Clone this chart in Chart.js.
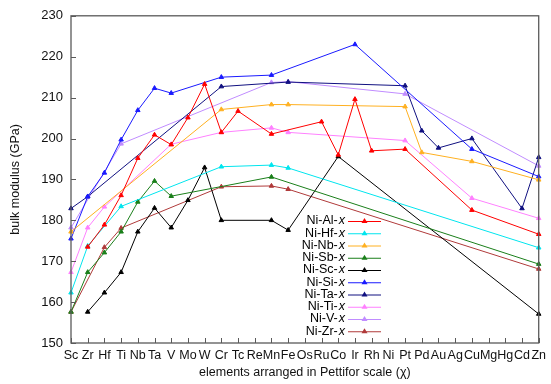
<!DOCTYPE html>
<html>
<head>
<meta charset="utf-8">
<script src="https://cdn.jsdelivr.net/npm/chart.js@4.4.0/dist/chart.umd.min.js"></script>
<style>
  html, body { margin: 0; padding: 0; background: #fff; }
  #wrap { width: 551px; height: 384px; }
</style>
</head>
<body>
<div id="wrap"><canvas id="c" width="551" height="384"></canvas></div>
<script>
// elements in Pettifor order
const elements = ['Sc','Zr','Hf','Ti','Nb','Ta','V','Mo','W','Cr','Tc','Re','Mn','Fe','Os','Ru','Co','Ir','Rh','Ni','Pt','Pd','Au','Ag','Cu','Mg','Hg','Cd','Zn'];
const yTicks = [150, 160, 170, 180, 190, 200, 210, 220, 230];

// bulk modulus (GPa), null = not computed
//              Sc    Zr    Hf    Ti    Nb    Ta    V     Mo    W     Cr    Tc    Re    Mn    Fe    Os    Ru    Co    Ir    Rh    Ni    Pt    Pd    Au    Ag    Cu    Mg    Hg    Cd    Zn
const niAl = [null, 173.5,178.9,186.1,195.2,200.9,198.5,205.1,213.3,201.5,206.7,null, 201.1,null, null, 204.1,196.0,209.6,197.0,null, 197.4,null, null, null, 182.5,null, null, null, 176.6];
const niHf = [162.3,173.7,null, 183.4,null, null, null, null, null, 193.1,null, null, 193.5,192.8,null, null, null, null, null, null, null, null, null, null, null, null, null, null, 173.3];
const niNb = [177.2,null, null, null, null, null, null, null, null, 207.1,null, null, 208.3,208.3,null, null, null, null, null, null, 207.8,196.6,null, null, 194.4,null, null, null, 189.9];
const niSb = [157.6,167.3,172.1,177.2,184.5,189.6,185.9,null, null, null, null, null, 190.6,null, null, null, null, null, null, null, null, null, null, null, null, null, null, null, 169.3];
const niSc = [null, 157.6,162.3,167.3,177.2,183.0,178.2,184.9,192.9,180.0,null, null, 180.0,177.6,null, null, 195.6,null, null, null, null, null, null, null, null, null, null, null, 157.1];
const niSi = [175.5,185.8,191.6,199.7,206.9,212.3,211.1,null, null, 215.0,null, null, 215.5,null, null, null, null, 223.0,null, null, null, null, null, null, 197.4,null, null, null, 190.7];
const niTa = [182.9,185.8,null, null, null, null, null, null, null, 212.7,null, null, null, 213.8,null, null, null, null, null, null, 212.9,201.9,197.7,null, 200.0,null, null, 182.9,195.4];
const niTi = [167.3,178.2,183.3,null, null, null, 198.6,null, null, 201.5,null, null, 202.6,201.5,null, null, null, null, null, null, 199.5,null, null, null, 185.4,null, null, null, 180.5];
const niV  = [178.2,null, null, 198.7,null, null, null, null, null, null, null, null, 213.7,213.9,null, null, null, null, null, null, 210.9,null, null, null, null, null, null, null, 193.3];
const niZr = [157.6,null, 173.4,178.1,null, null, null, null, null, 188.2,null, null, 188.4,187.6,null, null, null, null, null, null, null, null, null, null, null, null, null, null, 168.1];

const seriesNames = ['Ni-Al-', 'Ni-Hf-', 'Ni-Nb-', 'Ni-Sb-', 'Ni-Sc-', 'Ni-Si-', 'Ni-Ta-', 'Ni-Ti-', 'Ni-V-', 'Ni-Zr-'];
const seriesData = [niAl, niHf, niNb, niSb, niSc, niSi, niTa, niTi, niV, niZr];
const seriesColors = ['#ff0000', '#00e5ee', '#ffb020', '#1a7f1a', '#000000', '#1a1aff', '#101080', '#ff80ff', '#c08cff', '#b03a3a'];

const FONT = "'Liberation Sans', Arial, sans-serif";

// frame with inward ticks, like gnuplot
const framePlugin = {
  id: 'frame',
  afterDatasetsDraw(chart) {
    const { ctx, chartArea: a, scales } = chart;
    ctx.save();
    ctx.strokeStyle = '#5a5a5a';
    ctx.lineWidth = 1.3;
    ctx.strokeRect(a.left, a.top, a.right - a.left, a.bottom - a.top);
    ctx.lineWidth = 1;
    ctx.beginPath();
    elements.forEach((e, i) => {
      const px = Math.round(scales.x.getPixelForValue(i)) + 0.5;
      ctx.moveTo(px, a.bottom);
      ctx.lineTo(px, a.bottom - 5);
    });
    yTicks.forEach(v => {
      const py = Math.round(scales.y.getPixelForValue(v)) + 0.5;
      ctx.moveTo(a.left, py);
      ctx.lineTo(a.left + 5, py);
    });
    ctx.stroke();
    ctx.restore();
  }
};

// key in the lower middle, text right aligned, sample to the right
const keyPlugin = {
  id: 'key',
  afterDatasetsDraw(chart) {
    const ctx = chart.ctx;
    const textRight = 345, lineL = 348, lineR = 381, top = 221, step = 12.25;
    ctx.save();
    ctx.textBaseline = 'middle';
    ctx.textAlign = 'right';
    chart.data.datasets.forEach((ds, i) => {
      const yy = top + i * step;
      ctx.fillStyle = '#000';
      ctx.font = 'italic 12.5px ' + FONT;
      const wx = ctx.measureText('x').width;
      ctx.fillText('x', textRight, yy);
      ctx.font = '12.5px ' + FONT;
      ctx.fillText(seriesNames[i], textRight - wx - 1, yy);
      ctx.strokeStyle = ds.borderColor;
      ctx.lineWidth = 1;
      ctx.beginPath();
      ctx.moveTo(lineL, yy + 0.5);
      ctx.lineTo(lineR, yy + 0.5);
      ctx.stroke();
      const cx = (lineL + lineR) / 2;
      ctx.fillStyle = ds.borderColor;
      ctx.beginPath();
      ctx.moveTo(cx, yy - 3);
      ctx.lineTo(cx + 3, yy + 2);
      ctx.lineTo(cx - 3, yy + 2);
      ctx.closePath();
      ctx.fill();
    });
    ctx.restore();
  }
};

new Chart(document.getElementById('c').getContext('2d'), {
  type: 'line',
  data: {
    labels: elements,
    datasets: seriesData.map((d, i) => ({
      label: seriesNames[i] + 'x',
      data: d,
      borderColor: seriesColors[i],
      backgroundColor: seriesColors[i],
      borderWidth: 1,
      pointStyle: 'triangle',
      pointRadius: 2.6,
      pointBorderWidth: 1,
      spanGaps: true,
      tension: 0
    }))
  },
  options: {
    responsive: false,
    animation: false,
    layout: { padding: { top: 11, right: 12, bottom: 0, left: 0 } },
    plugins: {
      legend: { display: false },
      tooltip: { enabled: false }
    },
    scales: {
      x: {
        type: 'category',
        offset: false,
        grid: { display: false, drawTicks: false },
        border: { display: false },
        ticks: {
          autoSkip: false,
          maxRotation: 0,
          padding: 5,
          color: '#111',
          font: { family: FONT, size: 12.5 }
        },
        title: {
          display: true,
          text: 'elements arranged in Pettifor scale (χ)',
          color: '#111',
          padding: { top: 0, bottom: 4 },
          font: { family: FONT, size: 12.5 }
        },
        afterFit: s => { s.height = 41; }
      },
      y: {
        min: 150,
        max: 230,
        grid: { display: false, drawTicks: false },
        border: { display: false },
        ticks: {
          stepSize: 10,
          padding: 8,
          color: '#111',
          font: { family: FONT, size: 13 }
        },
        title: {
          display: true,
          text: 'bulk modulus (GPa)',
          color: '#111',
          padding: { top: 8, bottom: 0 },
          font: { family: FONT, size: 12.5 }
        },
        afterFit: s => { s.width = 71; }
      }
    }
  },
  plugins: [framePlugin, keyPlugin]
});
</script>
</body>
</html>
